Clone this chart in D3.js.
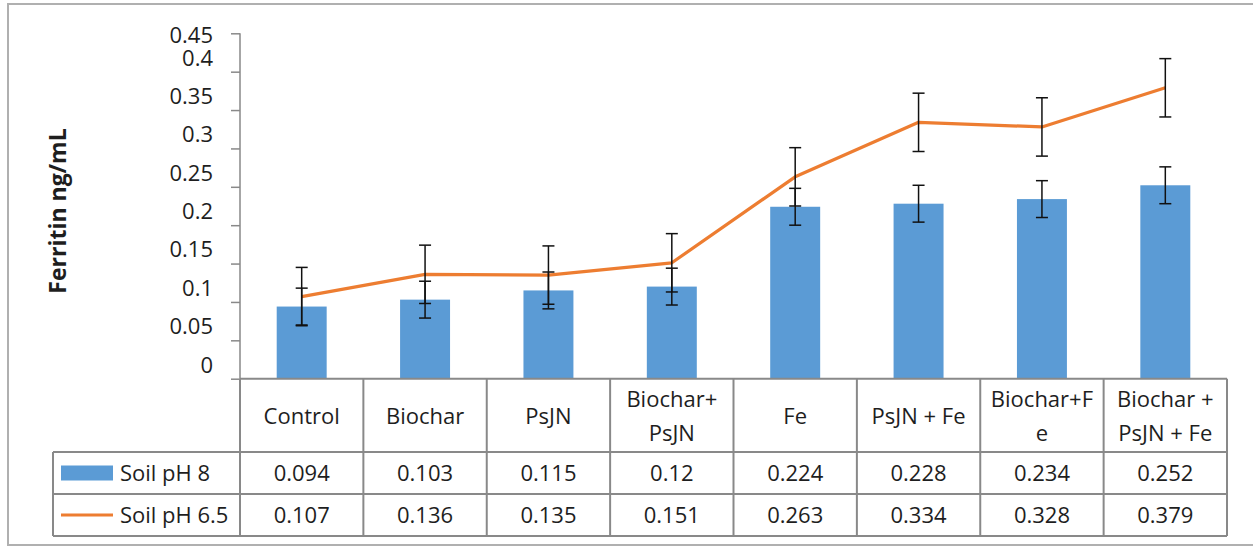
<!DOCTYPE html>
<html><head><meta charset="utf-8">
<script src="https://cdn.jsdelivr.net/npm/d3@7"></script>
<style>
html,body{margin:0;padding:0;background:#fff;}
svg{display:block;}
text{font-family:"Open Sans","Segoe UI",sans-serif;fill:#1e1e1e;}
</style></head>
<body><svg id="chart" width="1253" height="546"></svg>
<script>
const categories = ["Control","Biochar","PsJN","Biochar+\nPsJN","Fe","PsJN + Fe","Biochar+F\ne","Biochar +\nPsJN + Fe"];
const ph8 = [0.094,0.103,0.115,0.12,0.224,0.228,0.234,0.252];
const ph65 = [0.107,0.136,0.135,0.151,0.263,0.334,0.328,0.379];
const ph8Err = [0.024,0.024,0.024,0.024,0.024,0.024,0.024,0.024];
const ph65Err = [0.038,0.038,0.038,0.038,0.038,0.038,0.038,0.038];
const ph8Labels = ["0.094","0.103","0.115","0.12","0.224","0.228","0.234","0.252"];
const ph65Labels = ["0.107","0.136","0.135","0.151","0.263","0.334","0.328","0.379"];
const yTicks = [0,0.05,0.1,0.15,0.2,0.25,0.3,0.35,0.4,0.45];
const seriesNames = ["Soil pH 8","Soil pH 6.5"];

const svg = d3.select("#chart");
const blue = "#5B9BD5", orange = "#ED7D31", grid = "#898989";

// outer border
svg.append("rect").attr("x",8).attr("y",4).attr("width",1260).attr("height",541)
  .attr("fill","none").attr("stroke","#b0b0b0").attr("stroke-width",2);

const x0 = 240, x1 = 1227;
const yTop = 33.3, yBot = 378.7;
const x = d3.scaleBand().domain(d3.range(categories.length)).range([x0,x1]).paddingInner(0).paddingOuter(0);
const y = d3.scaleLinear().domain([0,0.45]).range([yBot,yTop]);
const cx = i => x(i) + x.bandwidth()/2;
const barW = x.bandwidth()*0.405;

// y axis
const yAxis = d3.axisLeft(y).tickValues(yTicks).tickSize(9).tickFormat(d3.format("~g"));
const ga = svg.append("g").attr("transform",`translate(${x0},0)`).call(yAxis);
ga.select(".domain").attr("stroke",grid).attr("stroke-width",1.5).attr("d",`M0,${yTop}V${yBot}`);
ga.selectAll(".tick line").attr("stroke",grid).attr("stroke-width",1.5);
ga.selectAll(".tick text").attr("x",-27).attr("font-size",22).attr("font-family","Open Sans").attr("fill","#1e1e1e")
  .attr("dy", d => d===0.45 ? "0.4em" : "-0.3em");

// y title
svg.append("text").attr("transform",`translate(66,${(yTop+yBot)/2+5}) rotate(-90)`)
  .attr("text-anchor","middle").attr("font-weight","bold").attr("font-size",23)
  .attr("font-family","Open Sans").text("Ferritin ng/mL");

// bars
svg.append("g").selectAll("rect").data(ph8).join("rect")
  .attr("x",(d,i)=>cx(i)-barW/2).attr("width",barW)
  .attr("y",d=>y(d)).attr("height",d=>yBot-y(d)).attr("fill",blue);

// line
const line = d3.line().x((d,i)=>cx(i)).y(d=>y(d));
svg.append("path").datum(ph65).attr("d",line).attr("fill","none")
  .attr("stroke",orange).attr("stroke-width",3.2).attr("stroke-linejoin","round");

// error bars
function errBars(vals, errs){
  const g = svg.append("g").attr("stroke","#111").attr("stroke-width",1.5);
  vals.forEach((v,i)=>{
    const c = cx(i), hi = y(v+errs[i]), lo = y(v-errs[i]);
    g.append("line").attr("x1",c).attr("x2",c).attr("y1",hi).attr("y2",lo);
    g.append("line").attr("x1",c-6).attr("x2",c+6).attr("y1",hi).attr("y2",hi);
    g.append("line").attr("x1",c-6).attr("x2",c+6).attr("y1",lo).attr("y2",lo);
  });
}
errBars(ph8, ph8Err);
errBars(ph65, ph65Err);

// data table
const rowH = 452, r1 = 494, r2 = 536, tableLeft = 53;
const tg = svg.append("g").attr("stroke",grid).attr("stroke-width",2).attr("fill","none");
tg.append("line").attr("x1",x0).attr("x2",x1).attr("y1",yBot).attr("y2",yBot);
[rowH, r1, r2].forEach(yy=>tg.append("line").attr("x1",tableLeft).attr("x2",x1).attr("y1",yy).attr("y2",yy));
d3.range(categories.length+1).forEach(i=>{
  const xx = i===categories.length ? x1 : x(i);
  tg.append("line").attr("x1",xx).attr("x2",xx).attr("y1",yBot).attr("y2",r2);
});
tg.append("line").attr("x1",tableLeft).attr("x2",tableLeft).attr("y1",rowH).attr("y2",r2);

// header labels
const fs = 22;
categories.forEach((c,i)=>{
  const lines = c.split("\n");
  const t = svg.append("text").attr("text-anchor","middle").attr("font-size",fs);
  const mid = (yBot+rowH)/2 + 1;
  lines.forEach((ln,k)=>{
    t.append("tspan").attr("x",cx(i))
      .attr("y", mid + (k-(lines.length-1)/2)*34).attr("dy","0.35em").text(ln);
  });
});

// row values
const rows = [{vals:ph8Labels, yc:(rowH+r1)/2}, {vals:ph65Labels, yc:(r1+r2)/2}];
rows.forEach(r=>{
  svg.append("g").selectAll("text").data(r.vals).join("text")
    .attr("x",(d,i)=>cx(i)).attr("y",r.yc).attr("dy","0.35em")
    .attr("text-anchor","middle").attr("font-size",fs).text(d=>d);
});

// legend keys
svg.append("rect").attr("x",61).attr("y",(rowH+r1)/2-7.5).attr("width",52).attr("height",15).attr("fill",blue);
svg.append("line").attr("x1",61).attr("x2",113).attr("y1",(r1+r2)/2).attr("y2",(r1+r2)/2)
  .attr("stroke",orange).attr("stroke-width",3.2);
seriesNames.forEach((n,k)=>{
  svg.append("text").attr("x",120).attr("y",k===0?(rowH+r1)/2:(r1+r2)/2).attr("dy","0.35em")
    .attr("font-size",fs).text(n);
});
</script></body></html>
